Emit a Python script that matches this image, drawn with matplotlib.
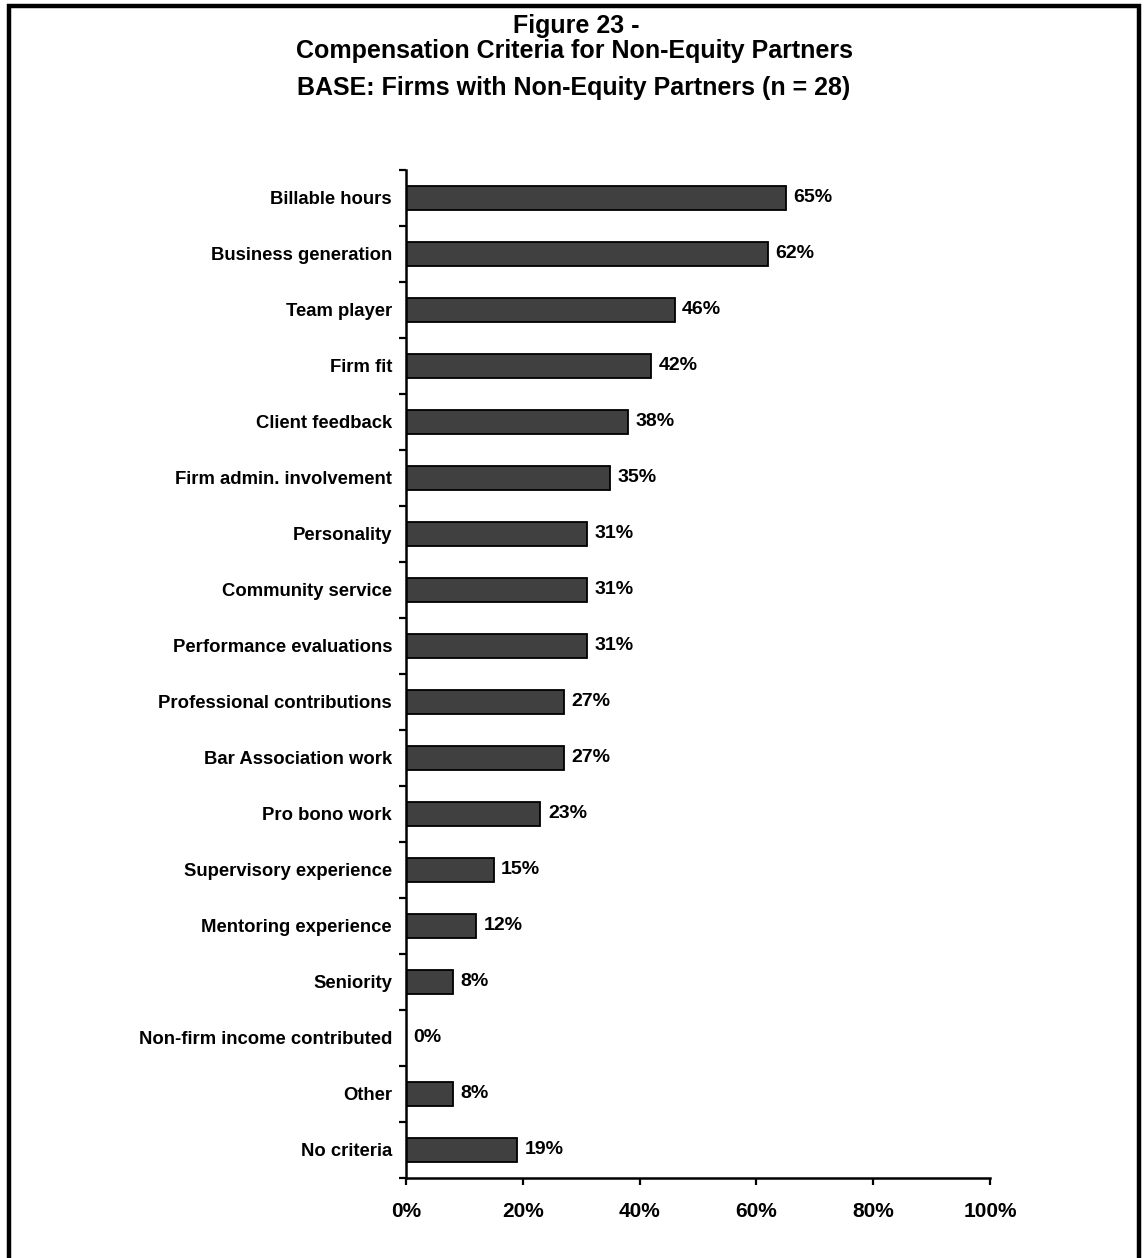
import matplotlib
matplotlib.use("Agg")
import matplotlib.pyplot as plt
from matplotlib.patches import Rectangle
import numpy as np

plt.rcParams['font.family'] = ['Liberation Sans', 'DejaVu Sans']
plt.rcParams['font.weight'] = 'bold'

criteria = ["Billable hours", "Business generation", "Team player", "Firm fit",
            "Client feedback", "Firm admin. involvement", "Personality",
            "Community service", "Performance evaluations",
            "Professional contributions", "Bar Association work",
            "Pro bono work", "Supervisory experience", "Mentoring experience",
            "Seniority", "Non-firm income contributed", "Other", "No criteria"]
pct = [65, 62, 46, 42, 38, 35, 31, 31, 31, 27, 27, 23, 15, 12, 8, 0, 8, 19]
xticks = [0, 20, 40, 60, 80, 100]

W, H = 1144, 1258
fig = plt.figure(figsize=(W / 100, H / 100), dpi=100)

# outer frame
fig.patches.append(Rectangle((9 / W, -0.01), (1139 - 9) / W, 1 - 6 / H + 0.01,
                             transform=fig.transFigure, fill=False,
                             edgecolor='black', linewidth=3.2))

fig.text(576 / W, 1 - 26 / H, "Figure 23 -", ha='center', va='center',
         fontsize=18, fontweight='bold')
fig.text(575 / W, 1 - 51 / H, "Compensation Criteria for Non-Equity Partners",
         ha='center', va='center', fontsize=18, fontweight='bold')
fig.text(574 / W, 1 - 88 / H, "BASE: Firms with Non-Equity Partners (n = 28)",
         ha='center', va='center', fontsize=18, fontweight='bold')

ax = fig.add_axes([406 / W, 80 / H, (990 - 406) / W, (1178 - 170) / H])
y = np.arange(len(criteria))
ax.barh(y, pct, height=0.42, color='#404040', edgecolor='black', linewidth=1.3)
for yi, v in zip(y, pct):
    ax.text(v + 1.3, yi, f"{v}%", va='center', ha='left', fontsize=14,
            fontweight='bold')

ax.set_xlim(0, 100)
ax.set_ylim(len(criteria) - 0.5, -0.5)
ax.set_xticks(xticks)
ax.set_xticklabels([f"{t}%" for t in xticks], fontsize=15, fontweight='bold')
ax.set_yticks(y)
ax.set_yticklabels(criteria, fontsize=13.3, fontweight='bold')
ax.set_yticks(np.arange(len(criteria) + 1) - 0.5, minor=True)
ax.tick_params(axis='y', which='major', length=0, pad=10)
ax.tick_params(axis='y', which='minor', length=5, width=1.6, direction='out')
ax.tick_params(axis='x', length=5, width=1.6, direction='out', pad=12)
for s in ['top', 'right']:
    ax.spines[s].set_visible(False)
for s in ['left', 'bottom']:
    ax.spines[s].set_linewidth(1.8)

fig.savefig("out.png", dpi=100)
